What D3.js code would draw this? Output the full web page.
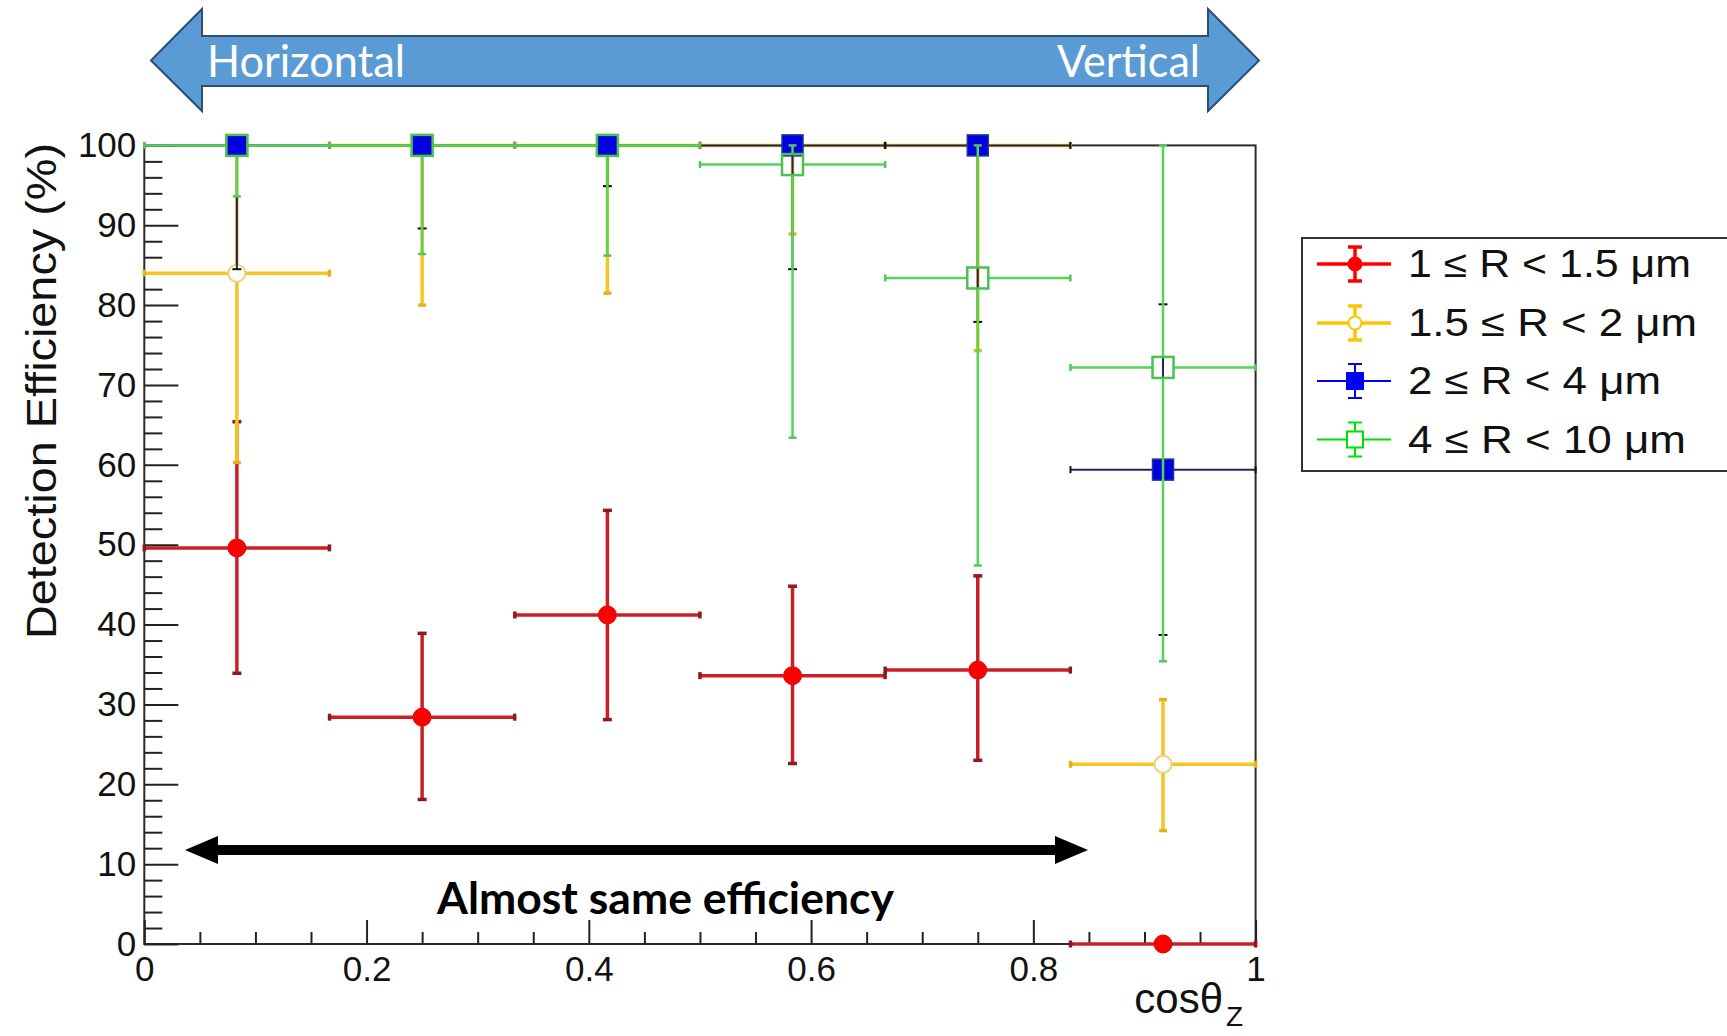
<!DOCTYPE html>
<html><head><meta charset="utf-8">
<script src="https://cdn.jsdelivr.net/npm/d3@7"></script>
<style>body{margin:0;background:#fff}svg{display:block}</style>
</head><body>
<svg id="chart" width="1727" height="1036"></svg>
<script>
// ---------- data ----------
const binCenters = [0.0833, 0.25, 0.4167, 0.5833, 0.75, 0.9167];
const binHalfWidths = [0.0833, 0.0833, 0.0833, 0.0833, 0.0833, 0.0833];

const redValues   = [49.6, 28.4, 41.2, 33.6, 34.3, 0];
const redUpper    = [65.4, 38.9, 54.3, 44.8, 46.1, 0];
const redLower    = [33.9, 18.1, 28.1, 22.6, 23.0, 0];

const yellowValues = [84.0, 100, 100, 100, 100, 22.5];
const yellowUpper  = [100, 100, 100, 100, 100, 30.6];
const yellowLower  = [60.3, 80.0, 81.5, 88.9, 74.3, 14.2];

const blueValues = [100, 100, 100, 100, 100, 59.4];
const blueUpper  = [100, 100, 100, 100, 100, 80.1];
const blueLower  = [84.5, 89.6, 94.9, 84.5, 77.9, 38.7];

const greenValues = [100, 100, 100, 97.6, 83.4, 72.2];
const greenUpper  = [100, 100, 100, 100, 100, 100];
const greenLower  = [93.6, 86.4, 86.2, 63.4, 47.4, 35.4];

const seriesLabels = ["1 \u2264 R < 1.5 \u03bcm", "1.5 \u2264 R < 2 \u03bcm", "2 \u2264 R < 4 \u03bcm", "4 \u2264 R < 10 \u03bcm"];
const xTickValues = [0, 0.2, 0.4, 0.6, 0.8, 1];
const xTickLabels = ["0", "0.2", "0.4", "0.6", "0.8", "1"];
const yTickValues = [0, 10, 20, 30, 40, 50, 60, 70, 80, 90, 100];
const yTickLabels = ["0", "10", "20", "30", "40", "50", "60", "70", "80", "90", "100"];
const xTitle = "cos\u03b8";
const xTitleSub = "Z";
const yTitle = "Detection Efficiency (%)";
const arrowLeftLabel = "Horizontal";
const arrowRightLabel = "Vertical";
const noteLabel = "Almost same efficiency";

// ---------- setup ----------
const svg = d3.select('#chart');
const x = d3.scaleLinear().domain([0, 1]).range([144.3, 1255.6]);
const y = d3.scaleLinear().domain([0, 100]).range([944, 145.4]);
const AX = "Liberation Sans, Arial, Helvetica, sans-serif";

// ---------- top blue double arrow ----------
const ax0 = 151, ax1 = 1259, ahb0 = 202, ahb1 = 1208, ayc = 60.5;
svg.append('path')
  .attr('d', `M${ax0},${ayc} L${ahb0},9 L${ahb0},36 L${ahb1},36 L${ahb1},9 L${ax1},${ayc} L${ahb1},111 L${ahb1},86 L${ahb0},86 L${ahb0},111 Z`)
  .attr('fill', '#5b9bd5').attr('stroke', '#2f4d6e').attr('stroke-width', 2);
svg.append('text').attr('x', 207).attr('y', 77).text(arrowLeftLabel)
  .attr('font-family', 'Lato, "Open Sans", sans-serif').attr('font-size', 44)
  .attr('fill', '#fff').attr('textLength', 198).attr('lengthAdjust', 'spacingAndGlyphs');
svg.append('text').attr('x', 1200).attr('y', 77).attr('text-anchor', 'end').text(arrowRightLabel)
  .attr('font-family', 'Lato, "Open Sans", sans-serif').attr('font-size', 44)
  .attr('fill', '#fff').attr('textLength', 143).attr('lengthAdjust', 'spacingAndGlyphs');

// ---------- frame ----------
svg.append('rect').attr('x', x(0)).attr('y', y(100))
  .attr('width', x(1) - x(0)).attr('height', y(0) - y(100))
  .attr('fill', 'none').attr('stroke', '#2a2a2a').attr('stroke-width', 2);

// ---------- axes ----------
function styleAxis(g) {
  g.select('.domain').remove();
  g.selectAll('.tick line').attr('stroke', '#222').attr('stroke-width', 2);
  g.selectAll('.tick text').attr('font-family', AX).attr('font-size', 35).attr('fill', '#111');
}
const yMinorVals = d3.range(0, 101, 2).filter(v => v % 10 !== 0);
svg.append('g').attr('transform', `translate(${x(0)},0)`)
  .call(d3.axisLeft(y).tickValues(yMinorVals).tickSizeInner(-18).tickSizeOuter(0).tickFormat(''))
  .call(styleAxis);
svg.append('g').attr('transform', `translate(${x(0)},0)`)
  .call(d3.axisLeft(y).tickValues(yTickValues).tickSizeInner(-34).tickSizeOuter(0).tickPadding(8)
    .tickFormat((d, i) => yTickLabels[i]))
  .call(styleAxis);
const xMinorVals = d3.range(0, 21).map(i => i * 0.05).filter(v => Math.abs(v * 5 - Math.round(v * 5)) > 1e-6);
svg.append('g').attr('transform', `translate(0,${y(0)})`)
  .call(d3.axisBottom(x).tickValues(xMinorVals).tickSizeInner(-12).tickSizeOuter(0).tickFormat(''))
  .call(styleAxis);
svg.append('g').attr('transform', `translate(0,${y(0)})`)
  .call(d3.axisBottom(x).tickValues(xTickValues).tickSizeInner(-24).tickSizeOuter(0).tickPadding(12)
    .tickFormat((d, i) => xTickLabels[i]))
  .call(styleAxis);

// axis titles
svg.append('text').attr('transform', `translate(56,391) rotate(-90)`).attr('text-anchor', 'middle')
  .text(yTitle).attr('font-family', AX).attr('font-size', 42).attr('fill', '#111')
  .attr('textLength', 496).attr('lengthAdjust', 'spacingAndGlyphs');
svg.append('text').attr('x', 1223).attr('y', 1013).attr('text-anchor', 'end').text(xTitle)
  .attr('font-family', AX).attr('font-size', 42).attr('fill', '#111');
svg.append('text').attr('x', 1226).attr('y', 1026).text(xTitleSub)
  .attr('font-family', AX).attr('font-size', 28).attr('fill', '#111');

// ---------- series ----------
const series = [
  {vals: redValues, up: redUpper, lo: redLower, bar: '#c8202a', cap: '#8e1a1e', bw: 3.5, capW: 9,
   marker: 'circle', r: 9, fill: '#ff0000', mstroke: '#e00000', open: false},
  {vals: yellowValues, up: yellowUpper, lo: yellowLower, bar: '#f3c622', cap: '#e0b420', bw: 3.5, capW: 8,
   marker: 'circle', r: 8.5, fill: '#ffffff', mstroke: '#efd27a', open: true},
  {vals: blueValues, up: blueUpper, lo: blueLower, bar: '#22225e', cap: '#111', bw: 2, capW: 9,
   marker: 'square', r: 10.5, fill: '#0000e0', mstroke: '#1b3a8f', open: false},
  {vals: greenValues, up: greenUpper, lo: greenLower, bar: '#55d45a', cap: '#55c45a', bw: 2.5, capW: 8,
   marker: 'square', r: 10.5, fill: 'none', mstroke: '#4cc153', open: true}
];

series.forEach(s => {
  const g = svg.append('g');
  binCenters.forEach((c, i) => {
    const cx = x(c), cy = y(s.vals[i]);
    const xl = x(c - binHalfWidths[i]), xr = x(c + binHalfWidths[i]);
    const yu = y(s.up[i]), yl = y(s.lo[i]);
    const gap = s.r;
    const line = (x1, y1, x2, y2, col, w) => g.append('line').attr('x1', x1).attr('y1', y1)
      .attr('x2', x2).attr('y2', y2).attr('stroke', col).attr('stroke-width', w);
    line(xl, cy, cx - gap, cy, s.bar, s.bw);
    line(cx + gap, cy, xr, cy, s.bar, s.bw);
    line(xl, cy - 3.5, xl, cy + 3.5, s.cap, s.bw);
    line(xr, cy - 3.5, xr, cy + 3.5, s.cap, s.bw);
    if (cy - yu > gap) {
      line(cx, yu, cx, cy - gap, s.bar, s.bw);
      line(cx - s.capW / 2, yu, cx + s.capW / 2, yu, s.cap, s.bw);
    }
    if (yl - cy > gap) {
      line(cx, cy + gap, cx, yl, s.bar, s.bw);
      line(cx - s.capW / 2, yl, cx + s.capW / 2, yl, s.cap, s.bw);
    }
  });
  binCenters.forEach((c, i) => {
    const cx = x(c), cy = y(s.vals[i]);
    if (s.marker === 'circle') {
      g.append('circle').attr('cx', cx).attr('cy', cy).attr('r', s.r)
        .attr('fill', s.fill).attr('stroke', s.mstroke).attr('stroke-width', s.open ? 2 : 1);
    } else {
      g.append('rect').attr('x', cx - s.r).attr('y', cy - s.r).attr('width', 2 * s.r).attr('height', 2 * s.r)
        .attr('fill', s.fill).attr('stroke', s.mstroke).attr('stroke-width', s.open ? 2.5 : 1.5);
    }
  });
});

// ---------- black double arrow + note ----------
const bY = 850;
svg.append('path')
  .attr('d', `M185,${bY} L218,${bY - 14} L218,${bY - 5} L1055,${bY - 5} L1055,${bY - 14} L1088,${bY} L1055,${bY + 14} L1055,${bY + 5} L218,${bY + 5} L218,${bY + 14} Z`)
  .attr('fill', '#000');
svg.append('text').attr('x', 437).attr('y', 914).text(noteLabel)
  .attr('font-family', 'Lato, "Open Sans", sans-serif').attr('font-weight', 'bold').attr('font-size', 43)
  .attr('fill', '#000').attr('textLength', 457).attr('lengthAdjust', 'spacingAndGlyphs');

// ---------- legend ----------
const legendColors = ['#ff0000', '#ffc400', '#0000ff', '#00e000'];
const legendRows = [264, 323, 381, 439.5];
const legendWidths = [283, 289, 253, 278];
const lg = svg.append('g');
lg.append('rect').attr('x', 1302).attr('y', 238).attr('width', 460).attr('height', 233)
  .attr('fill', '#fff').attr('stroke', '#333').attr('stroke-width', 2);
series.forEach((s, i) => {
  const cy = legendRows[i], cx = 1355, col = legendColors[i];
  const w = i < 2 ? 3.5 : 2;
  const l = (x1, y1, x2, y2) => lg.append('line').attr('x1', x1).attr('y1', y1).attr('x2', x2).attr('y2', y2)
    .attr('stroke', col).attr('stroke-width', w);
  l(1317, cy, 1391, cy);
  l(cx, cy - 17, cx, cy + 17);
  l(cx - 7, cy - 17, cx + 7, cy - 17);
  l(cx - 7, cy + 17, cx + 7, cy + 17);
  if (s.marker === 'circle') {
    lg.append('circle').attr('cx', cx).attr('cy', cy).attr('r', 6.5)
      .attr('fill', s.open ? '#fff' : col).attr('stroke', col).attr('stroke-width', 2);
  } else {
    lg.append('rect').attr('x', cx - 8).attr('y', cy - 8).attr('width', 16).attr('height', 16)
      .attr('fill', s.open ? '#fff' : col).attr('stroke', col).attr('stroke-width', 2);
  }
  lg.append('text').attr('x', 1408).attr('y', cy + 13).text(seriesLabels[i])
    .attr('font-family', AX).attr('font-size', 38).attr('fill', '#111')
    .attr('textLength', legendWidths[i]).attr('lengthAdjust', 'spacingAndGlyphs');
});
</script>
</body></html>
